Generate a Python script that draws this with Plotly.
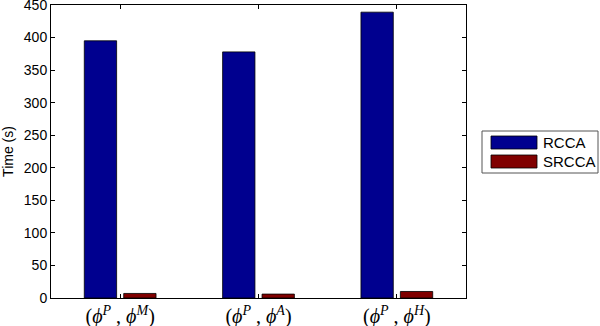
import plotly.graph_objects as go

categories = ["(<i>ϕ</i><sup><i>P</i></sup> , <i>ϕ</i><sup><i>M</i></sup>)",
              "(<i>ϕ</i><sup><i>P</i></sup> , <i>ϕ</i><sup><i>A</i></sup>)",
              "(<i>ϕ</i><sup><i>P</i></sup> , <i>ϕ</i><sup><i>H</i></sup>)"]
series_names = ["RCCA", "SRCCA"]
rcca = [395, 378, 439]
srcca = [7, 6, 10]
yticks = [0, 50, 100, 150, 200, 250, 300, 350, 400, 450]
colors = ["#00008F", "#800000"]

xpos = [1, 2, 3]

W, H = 600, 326
L, R, T, B = 51, 134, 5, 28
PW, PH = W - L - R, H - T - B


def px(x):
    return (x - L) / PW


def py(y):
    return (H - B - y) / PH


fig = go.Figure()
for name, vals, col in zip(series_names, [rcca, srcca], colors):
    fig.add_trace(go.Bar(x=xpos, y=vals, name=name, showlegend=False,
                         marker=dict(color=col, line=dict(color="black", width=0.8))))

# custom legend (wide swatches like the original)
shapes = [dict(type="rect", xref="paper", yref="paper",
               x0=px(482), x1=px(598), y0=py(173), y1=py(131),
               line=dict(color="#555555", width=1), fillcolor="white")]
annotations = []
for i, (name, col) in enumerate(zip(series_names, colors)):
    top = 136 + i * 19
    shapes.append(dict(type="rect", xref="paper", yref="paper",
                       x0=px(491), x1=px(537), y0=py(top + 13), y1=py(top),
                       line=dict(color="black", width=0.8), fillcolor=col))
    annotations.append(dict(text=name, xref="paper", yref="paper",
                            x=px(541), y=py(top + 6.5), xanchor="left", yanchor="middle",
                            showarrow=False, font=dict(size=15)))

fig.update_layout(
    width=W, height=H,
    template="none",
    margin=dict(l=L, r=R, t=T, b=B, autoexpand=False),
    plot_bgcolor="white", paper_bgcolor="white",
    barmode="group", bargap=0.43, bargroupgap=0.18,
    font=dict(family="Liberation Sans, Arial, sans-serif", size=13, color="black"),
    showlegend=False,
    shapes=shapes, annotations=annotations,
    xaxis=dict(range=[0.5, 3.5], tickmode="array", tickvals=xpos, ticktext=categories,
               ticks="inside", ticklen=4, tickcolor="black", automargin=False,
               showline=True, linecolor="black", linewidth=1, mirror="ticks",
               showgrid=False, zeroline=False,
               tickfont=dict(family="Liberation Serif, DejaVu Serif, serif", size=20)),
    yaxis=dict(range=[0, 450], tickmode="array", tickvals=yticks,
               ticks="inside", ticklen=4, tickcolor="black", automargin=False,
               ticklabeloverflow="allow",
               showline=True, linecolor="black", linewidth=1, mirror="ticks",
               showgrid=False, zeroline=False,
               title=dict(text="Time (s)", standoff=6, font=dict(size=14)),
               tickfont=dict(size=14)),
)

fig.write_html("out.html", config={"displayModeBar": False},
               post_script="document.body.style.margin='0px';document.body.style.overflow='hidden';")
